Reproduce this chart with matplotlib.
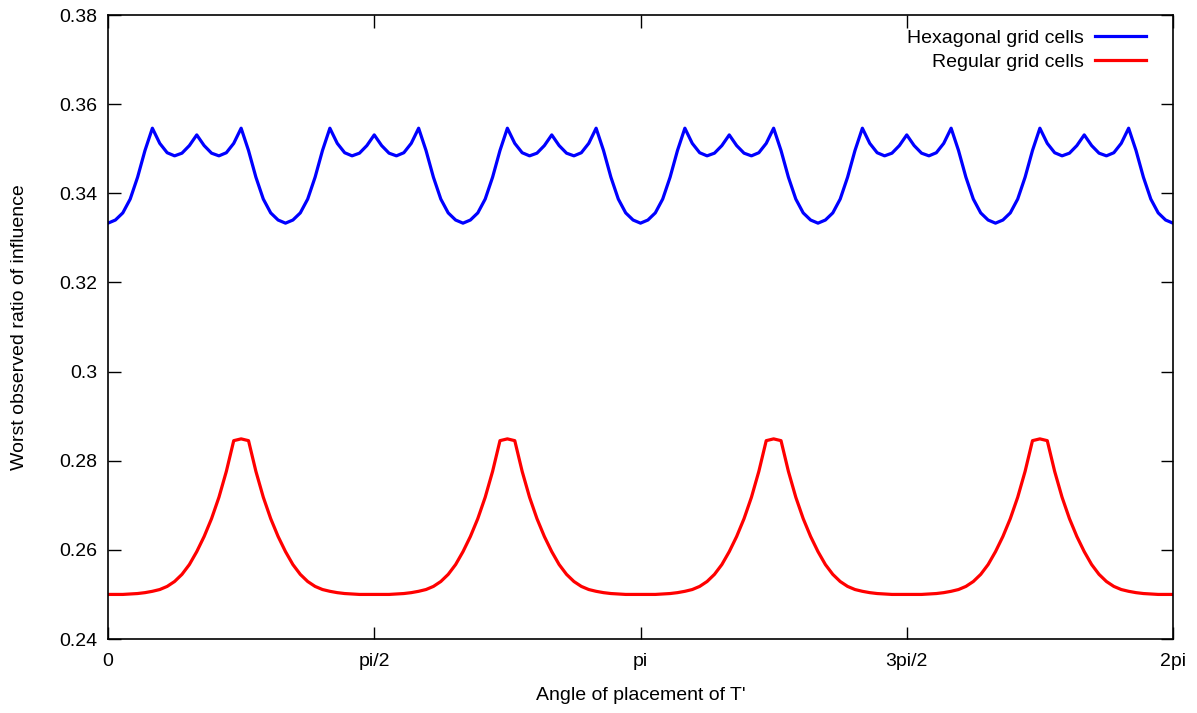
import numpy as np
import matplotlib
matplotlib.use("Agg")
import matplotlib.pyplot as plt

plt.rcParams['font.family'] = ['Liberation Sans', 'DejaVu Sans']

# angle grid in degrees, 0..360 every 2.5 deg
angle_deg = np.arange(0, 360.01, 2.5)

# worst observed ratio, hexagonal cells (one row per 60 deg)
hex_ratio = [
    0.3333, 0.3340, 0.3356, 0.3387, 0.3436, 0.3496, 0.3546, 0.3512, 0.3491, 0.3484, 0.3490, 0.3507,
    0.3531, 0.3507, 0.3490, 0.3484, 0.3491, 0.3512, 0.3546, 0.3496, 0.3436, 0.3387, 0.3356, 0.3340,
    0.3333, 0.3340, 0.3356, 0.3387, 0.3436, 0.3496, 0.3546, 0.3512, 0.3491, 0.3484, 0.3490, 0.3507,
    0.3531, 0.3507, 0.3490, 0.3484, 0.3491, 0.3512, 0.3546, 0.3496, 0.3436, 0.3387, 0.3356, 0.3340,
    0.3333, 0.3340, 0.3356, 0.3387, 0.3436, 0.3496, 0.3546, 0.3512, 0.3491, 0.3484, 0.3490, 0.3507,
    0.3531, 0.3507, 0.3490, 0.3484, 0.3491, 0.3512, 0.3546, 0.3496, 0.3436, 0.3387, 0.3356, 0.3340,
    0.3333, 0.3340, 0.3356, 0.3387, 0.3436, 0.3496, 0.3546, 0.3512, 0.3491, 0.3484, 0.3490, 0.3507,
    0.3531, 0.3507, 0.3490, 0.3484, 0.3491, 0.3512, 0.3546, 0.3496, 0.3436, 0.3387, 0.3356, 0.3340,
    0.3333, 0.3340, 0.3356, 0.3387, 0.3436, 0.3496, 0.3546, 0.3512, 0.3491, 0.3484, 0.3490, 0.3507,
    0.3531, 0.3507, 0.3490, 0.3484, 0.3491, 0.3512, 0.3546, 0.3496, 0.3436, 0.3387, 0.3356, 0.3340,
    0.3333, 0.3340, 0.3356, 0.3387, 0.3436, 0.3496, 0.3546, 0.3512, 0.3491, 0.3484, 0.3490, 0.3507,
    0.3531, 0.3507, 0.3490, 0.3484, 0.3491, 0.3512, 0.3546, 0.3496, 0.3436, 0.3387, 0.3356, 0.3340,
    0.3333,
]

# worst observed ratio, regular (square) cells, one row per 90 deg
reg_ratio = [
    0.2500, 0.2500, 0.2500, 0.2501, 0.2502, 0.2504, 0.2507, 0.2511, 0.2518, 0.2529, 0.2545, 0.2567,
    0.2596, 0.2630, 0.2670, 0.2718, 0.2776, 0.2845, 0.2849, 0.2845, 0.2776, 0.2718, 0.2670, 0.2630,
    0.2596, 0.2567, 0.2545, 0.2529, 0.2518, 0.2511, 0.2507, 0.2504, 0.2502, 0.2501, 0.2500, 0.2500,
    0.2500, 0.2500, 0.2500, 0.2501, 0.2502, 0.2504, 0.2507, 0.2511, 0.2518, 0.2529, 0.2545, 0.2567,
    0.2596, 0.2630, 0.2670, 0.2718, 0.2776, 0.2845, 0.2849, 0.2845, 0.2776, 0.2718, 0.2670, 0.2630,
    0.2596, 0.2567, 0.2545, 0.2529, 0.2518, 0.2511, 0.2507, 0.2504, 0.2502, 0.2501, 0.2500, 0.2500,
    0.2500, 0.2500, 0.2500, 0.2501, 0.2502, 0.2504, 0.2507, 0.2511, 0.2518, 0.2529, 0.2545, 0.2567,
    0.2596, 0.2630, 0.2670, 0.2718, 0.2776, 0.2845, 0.2849, 0.2845, 0.2776, 0.2718, 0.2670, 0.2630,
    0.2596, 0.2567, 0.2545, 0.2529, 0.2518, 0.2511, 0.2507, 0.2504, 0.2502, 0.2501, 0.2500, 0.2500,
    0.2500, 0.2500, 0.2500, 0.2501, 0.2502, 0.2504, 0.2507, 0.2511, 0.2518, 0.2529, 0.2545, 0.2567,
    0.2596, 0.2630, 0.2670, 0.2718, 0.2776, 0.2845, 0.2849, 0.2845, 0.2776, 0.2718, 0.2670, 0.2630,
    0.2596, 0.2567, 0.2545, 0.2529, 0.2518, 0.2511, 0.2507, 0.2504, 0.2502, 0.2501, 0.2500, 0.2500,
    0.2500,
]

x_ticks = [0, 0.5 * np.pi, np.pi, 1.5 * np.pi, 2 * np.pi]
x_ticklabels = ["0", "pi/2", "pi", "3pi/2", "2pi"]
y_ticks = [0.24, 0.26, 0.28, 0.30, 0.32, 0.34, 0.36, 0.38]
y_ticklabels = ["0.24", "0.26", "0.28", "0.3", "0.32", "0.34", "0.36", "0.38"]

x = np.deg2rad(angle_deg)

fig = plt.figure(figsize=(11.97, 7.13), dpi=100)
ax = fig.add_axes([108 / 1197, 1 - 639 / 713, (1173 - 108) / 1197, (639 - 15) / 713])

ax.plot(x, hex_ratio, color="#0000ff", lw=2.3, label="Hexagonal grid cells")
ax.plot(x, reg_ratio, color="#ff0000", lw=2.3, label="Regular grid cells")

ax.set_xlim(0, 2 * np.pi)
ax.set_ylim(0.24, 0.38)
ax.set_xticks(x_ticks)
ax.set_xticklabels(x_ticklabels)
ax.set_yticks(y_ticks)
ax.set_yticklabels(y_ticklabels)
ax.tick_params(direction="in", length=9, width=1, top=True, right=True,
               labelsize=14, colors="black")
ax.tick_params(axis="x", pad=10)
ax.tick_params(axis="y", pad=8)
for s in ax.spines.values():
    s.set_linewidth(1.2)

ax.set_xlabel("Angle of placement of T'", fontsize=14)
ax.set_ylabel("Worst observed ratio of influence", fontsize=14)
ax.xaxis.label.set_va("center")
ax.yaxis.label.set_va("center")
ax.xaxis.set_label_coords(0.5, (639 - 696) / 624)
ax.yaxis.set_label_coords((20 - 108) / 1065, 0.5)

leg = ax.legend(loc="upper right", frameon=False, markerfirst=False, fontsize=14,
                handlelength=2.6, handletextpad=0.6, labelspacing=0.3,
                borderaxespad=0.35, bbox_to_anchor=(0.988, 1.0))
for t in leg.get_texts():
    t.set_ha("right")

fig.savefig("out.png", dpi=100)
